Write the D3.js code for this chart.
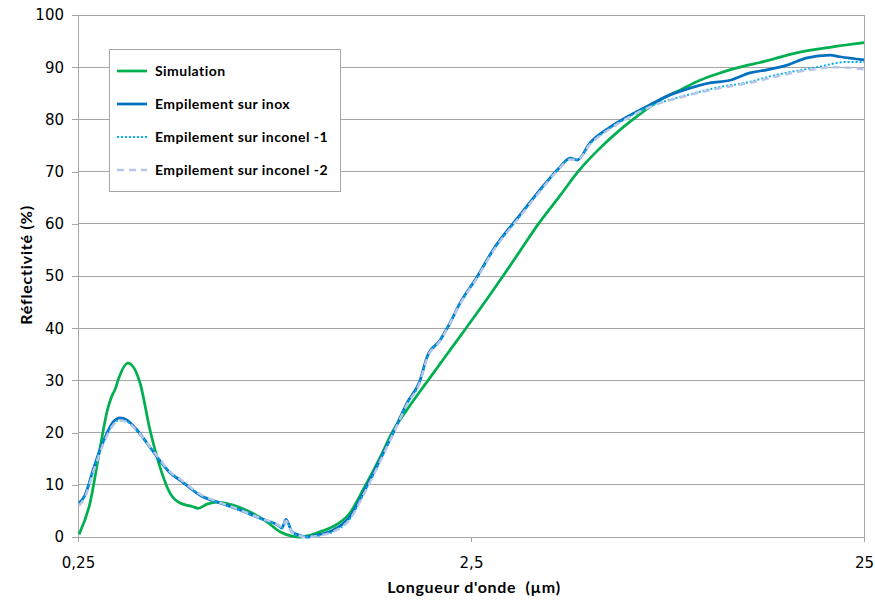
<!DOCTYPE html>
<html><head><meta charset="utf-8">
<script src="https://cdn.jsdelivr.net/npm/d3@7/dist/d3.min.js"></script>
<style>body{margin:0;background:#fff}svg{display:block}</style>
</head><body>
<script>
// Data (wavelength in µm, reflectivity in %)
const seriesNames = ["Simulation", "Empilement sur inox", "Empilement sur inconel -1", "Empilement sur inconel -2"];
const xTicks = [0.25, 2.5, 25];
const xTickLabels = ["0,25", "2,5", "25"];
const yTicks = [0, 10, 20, 30, 40, 50, 60, 70, 80, 90, 100];

const simLambda = [0.2515, 0.2529, 0.2682, 0.2844, 0.2963, 0.3070, 0.3105, 0.3160, 0.3351, 0.3596, 0.3812, 0.4042, 0.4286, 0.4544, 0.4904, 0.5050, 0.5324, 0.5645, 0.6200, 0.6849, 0.7566, 0.8165, 0.8812, 0.9181, 0.9565, 1.032, 1.114, 1.230, 1.328, 1.467, 1.574, 1.719, 1.944, 2.172, 2.428, 2.746, 3.016, 3.332, 3.680, 4.212, 4.681, 5.323, 5.985, 6.460, 7.565, 8.505, 9.563, 10.75, 12.09, 13.59, 17.18, 20.84, 25];
const simValues = [0.5, 0.9, 6.5, 17, 24, 27.5, 28.2, 30, 33.3, 29.5, 20.5, 13.4, 8.4, 6.5, 5.8, 5.5, 6.3, 6.7, 6.1, 4.8, 2.9, 1.0, 0.1, 0, 0.2, 1.0, 2.0, 4.6, 9, 15.2, 20, 24.4, 30, 35, 40, 45.6, 50, 54.8, 59.6, 65.4, 70, 74.5, 78, 80, 83.7, 85.6, 87.5, 88.9, 90, 90.9, 92.9, 93.9, 94.7];

const inoxLambda = [0.2515, 0.2604, 0.2730, 0.2844, 0.2963, 0.3070, 0.3198, 0.3332, 0.3532, 0.3812, 0.4042, 0.4286, 0.4544, 0.5110, 0.5745, 0.6459, 0.7262, 0.8165, 0.8261, 0.8457, 0.876, 0.9181, 0.9565, 1.032, 1.114, 1.230, 1.328, 1.467, 1.583, 1.719, 1.855, 1.932, 2.085, 2.210, 2.344, 2.590, 2.844, 3.332, 3.746, 4.212, 4.465, 4.652, 5.021, 5.645, 6.347, 7.135, 8.022, 9.020, 10.14, 11.40, 12.82, 14.16, 15.93, 17.90, 20.48, 21.72, 25];
const inoxValues = [6.5, 8, 12.8, 16.7, 19.9, 22, 22.8, 22.4, 20.5, 17.2, 14.6, 12.3, 10.9, 8, 6.5, 5.2, 3.6, 2.0, 1.7, 3.4, 1.0, 0.3, 0, 0.5, 1.3, 3.9, 8.4, 14.8, 19.9, 25.7, 30, 34.5, 37.7, 41, 44.8, 49.8, 55, 61.7, 66.5, 70.9, 72.6, 72.2, 75.5, 78.5, 80.8, 82.8, 84.7, 86, 87, 87.5, 88.9, 89.5, 90.4, 91.8, 92.3, 92, 91.4];

const inc1Lambda = [0.2515, 0.2604, 0.2730, 0.2844, 0.2963, 0.3070, 0.3198, 0.3332, 0.3532, 0.3812, 0.4042, 0.4286, 0.4544, 0.5110, 0.5745, 0.6459, 0.7262, 0.8165, 0.8261, 0.8457, 0.876, 0.9181, 0.9565, 1.032, 1.114, 1.230, 1.328, 1.467, 1.583, 1.719, 1.855, 1.932, 2.085, 2.210, 2.344, 2.590, 2.844, 3.332, 3.746, 4.212, 4.465, 4.652, 5.021, 5.645, 6.347, 7.135, 8.505, 10.75, 12.82, 14.16, 18.98, 22.63, 25];
const inc1Values = [6.2, 7.8, 12.5, 16.4, 19.6, 21.6, 22.4, 22.1, 20.3, 17.2, 14.7, 12.4, 11.0, 8.1, 6.5, 5.1, 3.5, 2.0, 1.7, 3.0, 1.0, 0.2, 0, 0.3, 1.0, 3.5, 8.0, 14.5, 19.8, 25.5, 29.8, 34.3, 37.6, 41, 44.7, 49.7, 54.8, 61.5, 66.3, 70.8, 72.4, 72.3, 75.3, 78.3, 80.6, 82.5, 84.3, 86.2, 87.2, 88.1, 90, 91, 91];

const inc2Lambda = [0.2515, 0.2604, 0.2730, 0.2844, 0.2963, 0.3070, 0.3198, 0.3332, 0.3532, 0.3812, 0.4042, 0.4286, 0.4544, 0.5110, 0.5745, 0.6459, 0.7262, 0.8165, 0.8261, 0.8457, 0.876, 0.9181, 0.9565, 1.032, 1.114, 1.230, 1.328, 1.467, 1.583, 1.719, 1.855, 1.932, 2.085, 2.210, 2.344, 2.590, 2.844, 3.332, 3.746, 4.212, 4.465, 4.652, 5.021, 5.645, 6.347, 7.135, 8.505, 10.75, 12.82, 14.16, 18.98, 20.84, 25];
const inc2Values = [6.0, 7.6, 12.3, 16.2, 19.4, 21.4, 22.3, 22.0, 20.4, 17.3, 14.8, 12.5, 11.1, 8.2, 6.6, 5.2, 3.6, 2.1, 1.8, 3.1, 1.0, 0.2, 0, 0.3, 1.0, 3.4, 7.9, 14.4, 19.7, 25.4, 29.7, 34.2, 37.5, 40.9, 44.6, 49.6, 54.7, 61.4, 66.2, 70.7, 72.3, 72.2, 75.2, 78.2, 80.5, 82.4, 84.2, 86.0, 87.0, 87.8, 89.7, 90.0, 89.6];

const colors = ["#00b050", "#0070c0", "#00b0f0", "#b4c7e7"];
const widths = [2.75, 2.75, 2, 2.5];
const dashes = [null, null, "2,2", "7,5"];

const W = 875, H = 601;
const M = {left: 78, right: 864, top: 15, bottom: 537};

const svg = d3.select("body").append("svg").attr("width", W).attr("height", H);

const x = d3.scaleLog().domain([0.25, 25]).range([M.left, M.right]);
const y = d3.scaleLinear().domain([0, 100]).range([M.bottom, M.top]);

// gridlines
svg.append("g").selectAll("line").data(yTicks).join("line")
  .attr("x1", M.left).attr("x2", M.right)
  .attr("y1", d => y(d)).attr("y2", d => y(d))
  .attr("stroke", "#a6a6a6").attr("stroke-width", 1).attr("shape-rendering", "crispEdges");

// y axis
const yAxis = d3.axisLeft(y).tickValues(yTicks).tickSize(6).tickPadding(8);
const gy = svg.append("g").attr("transform", `translate(${M.left},0)`).call(yAxis);
gy.select(".domain").attr("stroke", "#a6a6a6").attr("shape-rendering", "crispEdges");
gy.selectAll(".tick line").attr("stroke", "#a6a6a6").attr("shape-rendering", "crispEdges");
gy.selectAll("text").attr("font-family", "DejaVu Sans").attr("font-size", 15).attr("fill", "#000");

// x axis
const xAxis = d3.axisBottom(x).tickValues(xTicks).tickFormat((d, i) => xTickLabels[i]).tickSize(5).tickPadding(15);
const gx = svg.append("g").attr("transform", `translate(0,${M.bottom})`).call(xAxis);
gx.select(".domain").attr("stroke", "#a6a6a6").attr("shape-rendering", "crispEdges");
gx.selectAll(".tick line").attr("stroke", "#a6a6a6").attr("shape-rendering", "crispEdges");
gx.selectAll("text").attr("font-family", "DejaVu Sans").attr("font-size", 15).attr("fill", "#000");

// right border
svg.append("line").attr("x1", M.right).attr("x2", M.right).attr("y1", M.top).attr("y2", M.bottom)
  .attr("stroke", "#a6a6a6").attr("shape-rendering", "crispEdges");

// lines
const seriesData = [
  d3.zip(simLambda, simValues),
  d3.zip(inoxLambda, inoxValues),
  d3.zip(inc1Lambda, inc1Values),
  d3.zip(inc2Lambda, inc2Values)
];
const line = d3.line().x(d => x(d[0])).y(d => y(d[1])).curve(d3.curveMonotoneX);
[0, 1, 2, 3].forEach(i => {
  svg.append("path").datum(seriesData[i])
    .attr("d", line).attr("fill", "none")
    .attr("stroke", colors[i]).attr("stroke-width", widths[i])
    .attr("stroke-dasharray", dashes[i])
    .attr("stroke-linejoin", "round");
});

// axis titles
svg.append("text").attr("x", 474).attr("y", 593).attr("text-anchor", "middle")
  .attr("font-family", "Lato").attr("font-weight", "bold").attr("font-size", 16)
  .attr("letter-spacing", 0.7).style("white-space", "pre")
  .text("Longueur d'onde  (µm)");
svg.append("text").attr("transform", "translate(32,265) rotate(-90)").attr("text-anchor", "middle")
  .attr("font-family", "Lato").attr("font-weight", "bold").attr("font-size", 16)
  .attr("letter-spacing", 0.8)
  .text("Réflectivité (%)");

// legend
const lg = svg.append("g");
lg.append("rect").attr("x", 109.5).attr("y", 49.5).attr("width", 231).attr("height", 142)
  .attr("fill", "#fff").attr("stroke", "#a6a6a6");
seriesNames.forEach((n, i) => {
  const yy = 71 + i * 33;
  lg.append("line").attr("x1", 117).attr("x2", 147).attr("y1", yy).attr("y2", yy)
    .attr("stroke", colors[i]).attr("stroke-width", widths[i]).attr("stroke-dasharray", dashes[i]);
  lg.append("text").attr("x", 155).attr("y", yy + 5)
    .attr("font-family", "Lato").attr("font-weight", "bold").attr("font-size", 14)
    .attr("letter-spacing", 0.45)
    .text(n);
});
</script>
</body></html>
